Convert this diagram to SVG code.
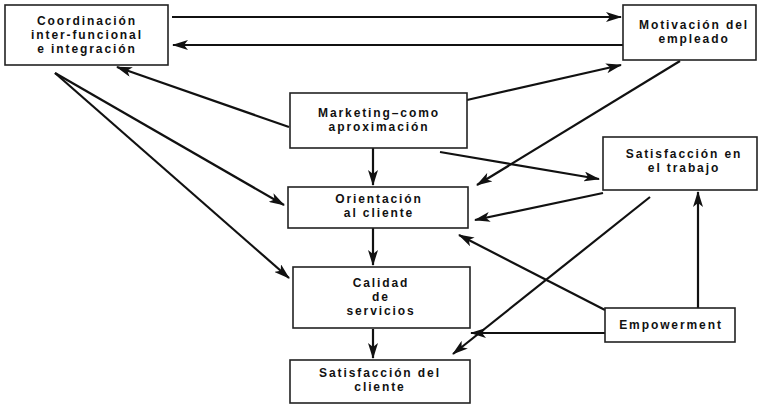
<svg xmlns="http://www.w3.org/2000/svg" width="763" height="405" viewBox="0 0 763 405">
<style>
.box{fill:#fff;stroke:#222;stroke-width:1.6}
.t{font-family:"Liberation Sans",Arial,sans-serif;font-weight:bold;font-size:12px;letter-spacing:1.9px;fill:#111;text-anchor:middle}
.c{stroke:#111;stroke-width:2.2;fill:none;marker-end:url(#ah)}
</style>
<defs>
<marker id="ah" markerUnits="userSpaceOnUse" markerWidth="16" markerHeight="10" refX="15" refY="5" orient="auto">
<path d="M0,0 L16,5 L0,10 L4,5 Z" fill="#111"/>
</marker>
</defs>
<rect width="763" height="405" fill="#fff"/>
<g id="connectors">
<line class="c" x1="172" y1="17" x2="621" y2="17"/>
<line class="c" x1="623" y1="45" x2="173" y2="45"/>
<line class="c" x1="289" y1="127" x2="117" y2="67"/>
<line class="c" x1="467" y1="100" x2="621" y2="65"/>
<line class="c" x1="55" y1="73" x2="284" y2="205"/>
<line class="c" x1="55" y1="73" x2="289" y2="278"/>
<line class="c" x1="373" y1="148" x2="373" y2="185"/>
<line class="c" x1="440" y1="152" x2="599" y2="179"/>
<line class="c" x1="680" y1="61" x2="477" y2="185"/>
<line class="c" x1="603" y1="193" x2="475" y2="220"/>
<line class="c" x1="650" y1="197" x2="453" y2="354"/>
<line class="c" x1="605" y1="310" x2="459" y2="235"/>
<line class="c" x1="605" y1="333" x2="471" y2="333"/>
<line class="c" x1="698" y1="308" x2="698" y2="192"/>
<line class="c" x1="373" y1="228" x2="373" y2="265"/>
<line class="c" x1="373" y1="329" x2="373" y2="358"/>
</g>
<g id="coordinacion">
<rect class="box" x="5" y="5" width="163" height="60"/>
<text class="t" x="87" y="25">Coordinación</text>
<text class="t" x="87" y="39">inter-funcional</text>
<text class="t" x="87" y="53">e integración</text>
</g>
<g id="motivacion">
<rect class="box" x="623" y="5" width="133" height="55"/>
<text class="t" x="694" y="29">Motivación del</text>
<text class="t" x="694" y="43">empleado</text>
</g>
<g id="marketing">
<rect class="box" x="290" y="93" width="177" height="55"/>
<text class="t" x="379" y="117">Marketing–como</text>
<text class="t" x="379" y="131">aproximación</text>
</g>
<g id="satisfaccion-trabajo">
<rect class="box" x="603" y="137" width="154" height="53"/>
<text class="t" x="684" y="158">Satisfacción en</text>
<text class="t" x="684" y="172">el trabajo</text>
</g>
<g id="orientacion">
<rect class="box" x="288" y="187" width="180" height="41"/>
<text class="t" x="379" y="203">Orientación</text>
<text class="t" x="379" y="217">al cliente</text>
</g>
<g id="calidad">
<rect class="box" x="293" y="267" width="177" height="61"/>
<text class="t" x="381" y="287">Calidad</text>
<text class="t" x="381" y="301">de</text>
<text class="t" x="381" y="315">servicios</text>
</g>
<g id="satisfaccion-cliente">
<rect class="box" x="290" y="360" width="180" height="43"/>
<text class="t" x="380" y="377">Satisfacción del</text>
<text class="t" x="380" y="391">cliente</text>
</g>
<g id="empowerment">
<rect class="box" x="605" y="308" width="130" height="34"/>
<text class="t" x="671" y="329">Empowerment</text>
</g>
</svg>
